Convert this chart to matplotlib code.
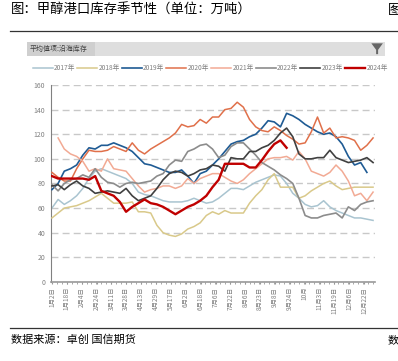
import numpy as np
import matplotlib.pyplot as plt
from matplotlib.patches import Rectangle, Polygon

plt.rcParams['font.family'] = ['Noto Sans CJK SC', 'DejaVu Sans']

# weekly coastal methanol inventory (10k tons)
y2017 = [60, 67, 63, 66, 70, 76, 84, 90, 92, 90, 88, 86, 84, 80, 73, 71, 70, 68, 66, 65,
         65, 65, 66, 68, 66, 64, 65, 68, 72, 76, 76, 75, 78, 81, 83, 85, 87, 86, 80, 72,
         68, 63, 61, 62, 66, 61, 58, 56, 54, 52, 52, 51, 50]
y2018 = [52, 56, 60, 61, 62, 64, 66, 69, 72, 68, 64, 64, 64, 65, 57, 57, 56, 46, 40, 38,
         37, 39, 43, 45, 48, 54, 57, 55, 58, 56, 56, 56, 64, 70, 75, 83, 88, 77, 77, 77,
         68, 70, 74, 77, 80, 82, 78, 75, 76, 77, 77, 77, 77]
y2019 = [75, 80, 90, 92, 95, 103, 109, 108, 111, 111, 113, 111, 109, 106, 101, 96, 95, 93, 91, 89,
         89, 91, 86, 80, 88, 90, 95, 100, 106, 112, 114, 115, 118, 120, 125, 131, 130, 126, 137, 135,
         132, 128, 125, 122, 120, 121, 118, 112, 102, 95, 97, 89]
y2020 = [89, 85, 82, 82, 92, 100, 107, 106, 106, 107, 110, 108, 106, 113, 107, 104, 108, 111, 114, 117,
         121, 128, 126, 127, 132, 129, 134, 134, 140, 141, 146, 142, 132, 126, 123, 122, 126, 123, 119, 116,
         112, 113, 122, 134, 121, 125, 117, 118, 117, 115, 107, 111, 117]
y2021 = [None, 117, 108, 104, 102, 98, 90, 92, 90, 100, 92, 91, 90, 84, 78, 73, 75, 76, 78, 78,
         76, 78, 84, 80, 84, 86, 88, 88, 85, 82, 80, 83, 88, 92, 96, 100, 101, 101, 102, 99,
         106, 100, 90, 88, 86, 89, 95, 90, 82, 70, 72, 66, 73]
y2022 = [79, 74, 80, 83, 84, 87, 85, 92, 85, 81, 80, 77, 80, 81, 80, 81, 82, 86, 88, 95,
         99, 98, 106, 108, 111, 112, 108, 101, 103, 110, 113, 113, 108, 103, 97, 94, 91, 87, 84, 80,
         68, 54, 52, 52, 54, 55, 56, 52, 61, 58, 63, 65, 66]
y2023 = [78, 79, 75, 79, 82, 78, 76, 72, 73, 74, 73, 72, 76, 70, 66, 68, 70, 76, 83, 88,
         90, 89, 86, 88, 91, 92, 95, 94, 90, 101, 100, 100, 106, 106, 109, 111, 115, 121, 125, 118,
         104, 100, 100, 101, 101, 107, 101, 99, 97, 98, 99, 101, 97]
y2024 = [86, 84, 84, 84, 84, 84, 83, 86, 74, 72, 70, 65, 57, 61, 64, 67, 64, 63, 61, 58,
         55, 58, 61, 63, 66, 70, 77, 83, 96, 96, 96, 96, 93, 93, 99, 106, 112, 115, 109]

years = ['2017年', '2018年', '2019年', '2020年', '2021年', '2022年', '2023年', '2024年']
series = [y2017, y2018, y2019, y2020, y2021, y2022, y2023, y2024]
colors = ['#a9c4d0', '#d9c98a', '#1f5b94', '#e0704a', '#f2aa94', '#8c8c8c', '#404040', '#c00000']
widths = [1.1, 1.1, 1.2, 1.1, 1.1, 1.2, 1.2, 1.7]

xlabels = ['1月2日', '1月18日', '2月4日', '2月24日', '3月11日', '3月28日', '4月13日', '4月29日',
           '5月17日', '6月2日', '6月18日', '7月6日', '7月22日', '8月6日', '8月23日', '9月8日',
           '9月24日', '10月', '11月3日', '11月19日', '12月6日', '12月22日']

fig = plt.figure(figsize=(3.98, 3.61), dpi=100)

# title and rules
fig.text(0.028, 0.972, '图：甲醇港口库存季节性（单位：万吨）', fontsize=9.6, va='center', ha='left')
fig.text(0.975, 0.972, '图', fontsize=9.6, va='center', ha='left')
fig.add_artist(plt.Line2D([0.025, 1.0], [0.914, 0.914], color='#333333', lw=0.9))
fig.add_artist(plt.Line2D([0.025, 1.0], [0.091, 0.091], color='#333333', lw=0.9))
fig.text(0.028, 0.058, '数据来源：卓创 国信期货', fontsize=8, va='center', ha='left')
fig.text(0.975, 0.058, '数', fontsize=8, va='center', ha='left')

# pivot header bar
fig.add_artist(Rectangle((0.068, 0.845), 0.9, 0.04, transform=fig.transFigure,
                         facecolor='#dedede', edgecolor='none'))
fig.add_artist(Rectangle((0.068, 0.845), 0.17, 0.04, transform=fig.transFigure,
                         facecolor='#cfcfcf', edgecolor='none'))
fig.text(0.074, 0.865, '平均值项:沿海库存', fontsize=5, va='center', ha='left', color='#404040')
fig.add_artist(Polygon([[0.933, 0.880], [0.962, 0.880], [0.950, 0.862], [0.950, 0.850],
                        [0.945, 0.850], [0.945, 0.862]], closed=True, transform=fig.transFigure,
                       facecolor='#666666', edgecolor='none'))

ax = fig.add_axes([0.128, 0.219, 0.814, 0.5455])
for i, (name, ys) in enumerate(zip(years, series)):
    x = [k for k, v in enumerate(ys) if v is not None]
    y = [v for v in ys if v is not None]
    ax.plot(x, y, color=colors[i], lw=widths[i], label=name, zorder=2 + i)

ax.set_ylim(0, 160)
ax.set_xlim(-0.16, 52.3)
ax.set_yticks(range(0, 161, 20))
ax.yaxis.grid(True, color='#c8c8c8', linestyle=(0, (5, 3)), lw=1.0)
ax.set_axisbelow(True)
ax.tick_params(axis='y', length=0, labelsize=5, labelcolor='#808080', pad=4)
ax.set_xticks([k * 2.408 for k in range(len(xlabels))])
ax.set_xticklabels(xlabels, rotation=90, fontsize=4.6, color='#808080')
ax.set_xticks(np.arange(0, 52.3, 0.8), minor=True)
ax.tick_params(axis='x', which='both', length=1.5, color='#999999', pad=2)
for s in ['top', 'right']:
    ax.spines[s].set_visible(False)
ax.spines['left'].set_color('#808080')
ax.spines['bottom'].set_color('#999999')
ax.spines['bottom'].set_linewidth(1.2)

fig.legend(loc='center', bbox_to_anchor=(0.528, 0.812), ncol=8, frameon=False, fontsize=4.8,
           handlelength=3.0, columnspacing=0.3, handletextpad=0.2, labelcolor='#808080')

fig.savefig('out.png', dpi=100)
